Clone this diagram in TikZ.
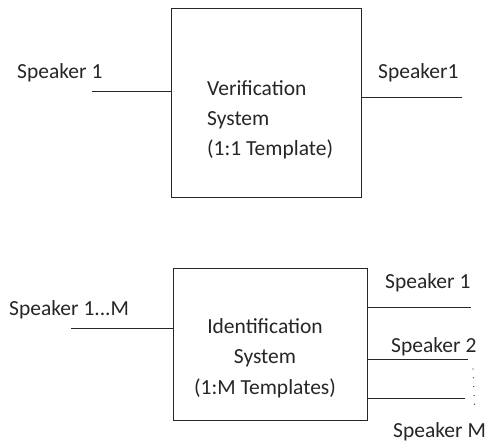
\documentclass[tikz,border=0pt]{standalone}
\usepackage{fontspec}
\setmainfont{Carlito}
\usetikzlibrary{positioning,calc}
\definecolor{sysink}{HTML}{262626}
\tikzstyle{sysbox} = [draw=sysink, line width=1pt, inner sep=0pt]
\tikzstyle{wire} = [draw=sysink, line width=1pt]
\tikzstyle{lbl} = [font=\fontsize{21.5}{30.5}\selectfont, text=sysink, inner sep=0pt]

\begin{document}
\begin{tikzpicture}[x=1pt, y=-1pt]
\useasboundingbox (0,0) rectangle (487,441);

% verification (1:1)
\node[sysbox, minimum width=190pt, minimum height=188pt] (vbox) at (266,103) {};
\node[lbl, align=left, anchor=base west] (vtext) at (207,156) {Verification\\System\\(1:1 Template)};
\coordinate (vin) at (92,92);
\coordinate (vout) at (462,98);
\draw[wire] (vin) -- (vin -| vbox.west);
\draw[wire] (vbox.east |- vout) -- (vout);
\node[lbl, anchor=base west] (vinlbl) at (17,79) {Speaker 1};
\node[lbl, anchor=base west] (voutlbl) at (378,79) {Speaker1};

% identification (1:M)
\node[sysbox, minimum width=194pt, minimum height=152pt] (ibox) at (270,344) {};
\node[lbl, align=center, anchor=base] (itext) at (265,394) {Identification\\System\\(1:M Templates)};
\coordinate (iin) at (71,328);
\draw[wire] (iin) -- (iin -| ibox.west);
\node[lbl, anchor=base west] (iinlbl) at (9,315) {Speaker 1...M};
\foreach \n/\px/\py in {a/471/307, b/468/359, m/465/398} {
  \coordinate (iout\n) at (\px,\py);
  \draw[wire] (ibox.east |- iout\n) -- (iout\n);
}
\node[lbl, anchor=base west] (ioutalbl) at (385,288) {Speaker 1};
\node[lbl, anchor=base west] (ioutblbl) at (391,352) {Speaker 2};
\node[lbl, anchor=base west] (ioutmlbl) at (393,437) {Speaker M};
\coordinate (dtop) at (473,369);
\coordinate (dbot) at (474.5,405);
\draw[sysink, line width=1.3pt, line cap=round, dash pattern=on 0pt off 8.8pt] (dtop) -- (dbot);
\end{tikzpicture}
\end{document}
